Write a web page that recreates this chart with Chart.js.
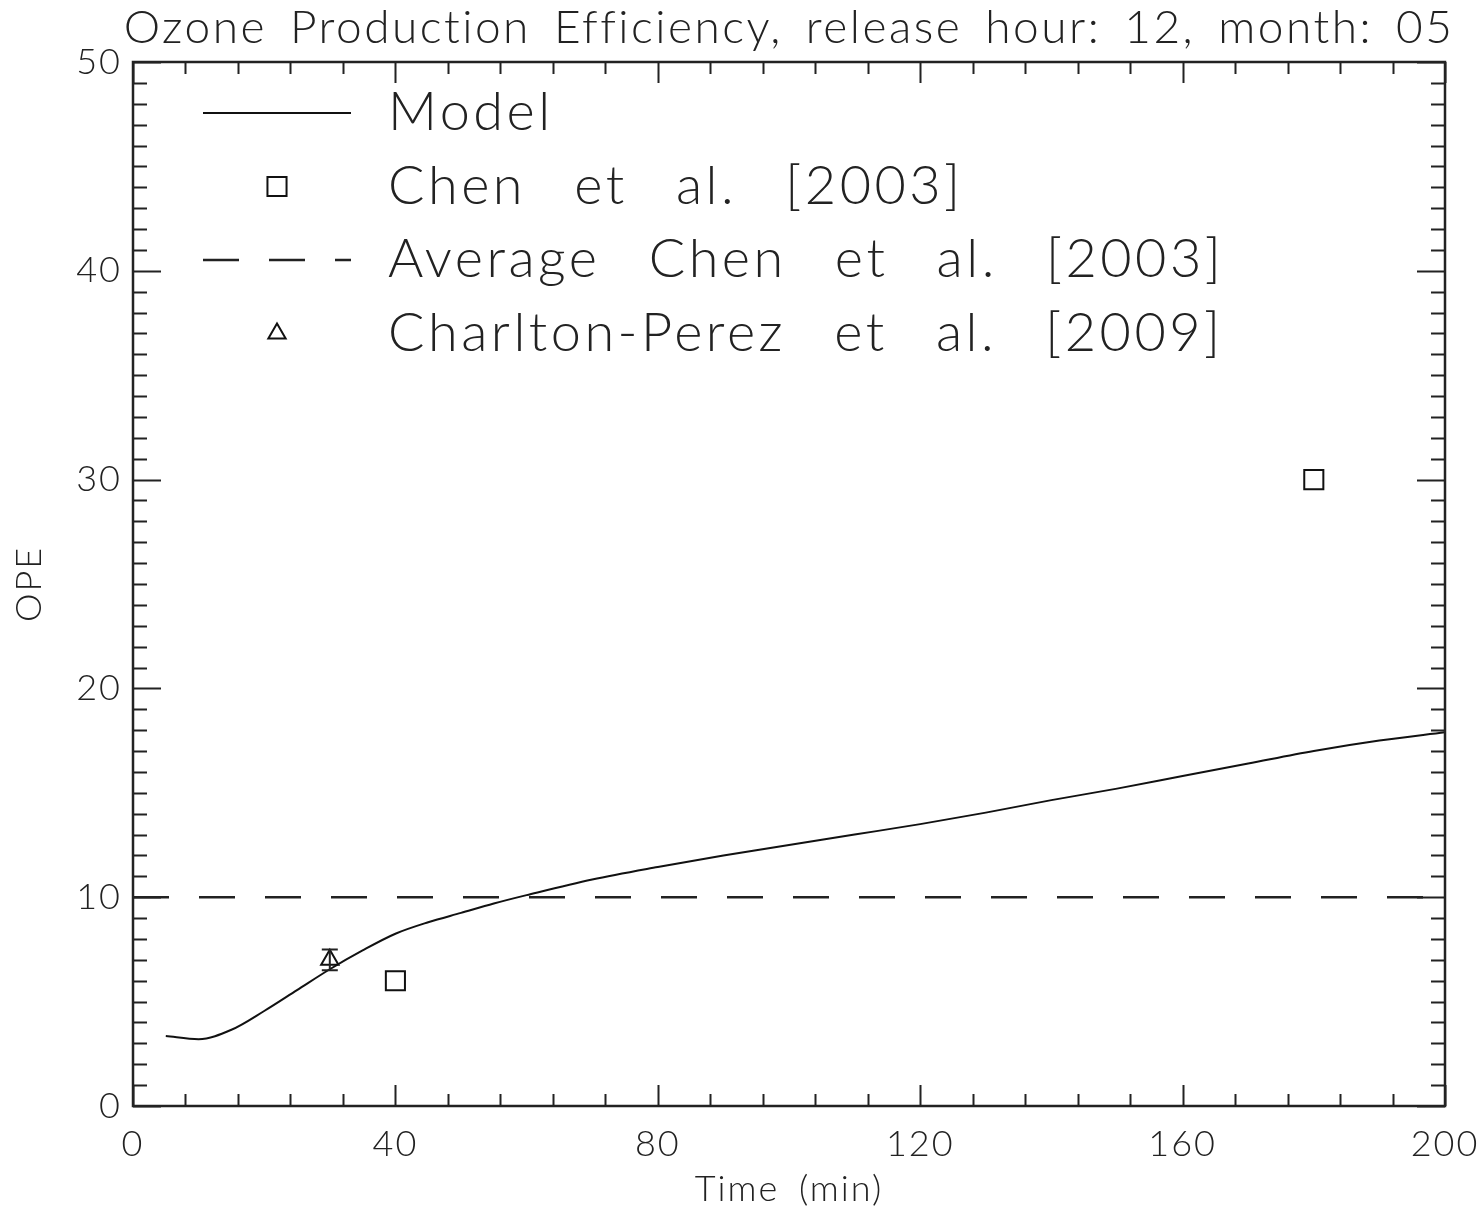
<!DOCTYPE html>
<html>
<head>
<meta charset="utf-8">
<script src="https://cdn.jsdelivr.net/npm/chart.js@4.4.0/dist/chart.umd.min.js"></script>
<style>
  html, body { margin: 0; padding: 0; background: #fff; }
</style>
</head>
<body>
<canvas id="opeChart" width="1484" height="1213"></canvas>
<script>
// values
var chartTitle = 'Ozone Production Efficiency, release hour: 12, month: 05';
var modelTime = [5, 10, 15, 20, 25, 30, 35, 40, 45, 50, 55, 60, 70, 80, 90, 100, 110, 120, 130, 140, 150, 160, 170, 180, 190, 200];
var modelOpe = [3.35, 3.2, 3.65, 4.55, 5.55, 6.55, 7.45, 8.25, 8.8, 9.25, 9.7, 10.1, 10.85, 11.45, 12.0, 12.5, 13.0, 13.5, 14.05, 14.65, 15.2, 15.8, 16.4, 17.0, 17.5, 17.9];
var chenTime = [40, 180];
var chenOpe = [6, 30];
var avgChenTime = [0, 200];
var avgChenOpe = [10, 10];
var charltonTime = [30];
var charltonOpe = [7];
var charltonErr = [0.5];
var xTickLabels = [0, 40, 80, 120, 160, 200];
var yTickLabels = [0, 10, 20, 30, 40, 50];

var ink = '#222';
var fontFamily = "Lato, 'Liberation Sans', sans-serif";

function points(xs, ys) {
  return xs.map(function(x, i) { return { x: x, y: ys[i] }; });
}

// the old plot font is spaced out, so widen the axis text a bit
var spacing = {
  id: 'spacing',
  beforeDraw: function(chart) {
    chart.ctx.letterSpacing = '2px';
    chart.ctx.wordSpacing = '8px';
  },
  afterDraw: function(chart) {
    chart.ctx.letterSpacing = '0px';
    chart.ctx.wordSpacing = '0px';
  }
};

// IDL style: closed box, ticks pointing inwards on all four sides
var idlFrame = {
  id: 'idlFrame',
  afterDraw: function(chart) {
    var c = chart.ctx, a = chart.chartArea;
    var xs = chart.scales.x, ys = chart.scales.y;
    c.save();
    c.strokeStyle = ink;
    c.lineWidth = 2;
    c.beginPath();
    for (var v = 0; v <= 200; v += 8) {
      var px = Math.round(xs.getPixelForValue(v)) + 0.5;
      var len = (v % 40 === 0) ? 21 : 12;
      c.moveTo(px, a.bottom); c.lineTo(px, a.bottom - len);
      c.moveTo(px, a.top); c.lineTo(px, a.top + len);
    }
    for (var w = 0; w <= 50; w += 1) {
      var py = Math.round(ys.getPixelForValue(w)) + 0.5;
      var ln = (w % 10 === 0) ? 28 : 14;
      c.moveTo(a.left, py); c.lineTo(a.left + ln, py);
      c.moveTo(a.right, py); c.lineTo(a.right - ln, py);
    }
    c.stroke();
    c.lineWidth = 2.5;
    c.strokeRect(a.left, a.top, a.right - a.left, a.bottom - a.top);

    // title over the plot box
    c.fillStyle = ink;
    c.font = '300 46px ' + fontFamily;
    c.letterSpacing = '2.5px';
    c.wordSpacing = '8px';
    c.textAlign = 'center';
    c.textBaseline = 'middle';
    c.fillText(chartTitle, (a.left + a.right) / 2, 28);
    c.restore();
  }
};

// error bars for the Charlton-Perez point
var errorBars = {
  id: 'errorBars',
  afterDatasetsDraw: function(chart) {
    var c = chart.ctx, xs = chart.scales.x, ys = chart.scales.y;
    c.save();
    c.strokeStyle = ink;
    c.lineWidth = 2;
    charltonTime.forEach(function(t, i) {
      var px = xs.getPixelForValue(t);
      var top = ys.getPixelForValue(charltonOpe[i] + charltonErr[i]);
      var bot = ys.getPixelForValue(charltonOpe[i] - charltonErr[i]);
      c.beginPath();
      c.moveTo(px, top); c.lineTo(px, bot);
      c.moveTo(px - 8, top); c.lineTo(px + 8, top);
      c.moveTo(px - 8, bot); c.lineTo(px + 8, bot);
      c.stroke();
    });
    c.restore();
  }
};

function markSymbol(c, style, r, x, y) {
  c.beginPath();
  if (style === 'rect') {
    var h = r * Math.SQRT1_2;
    c.rect(x - h, y - h, 2 * h, 2 * h);
  } else if (style === 'triangle') {
    c.moveTo(x, y - r);
    c.lineTo(x + r * Math.sin(Math.PI * 2 / 3), y + r / 2);
    c.lineTo(x - r * Math.sin(Math.PI * 2 / 3), y + r / 2);
    c.closePath();
  }
  c.stroke();
}

// legend drawn inside the plot box, top left
var insideLegend = {
  id: 'insideLegend',
  afterDatasetsDraw: function(chart) {
    var c = chart.ctx, a = chart.chartArea;
    c.save();
    chart.data.datasets.forEach(function(ds, i) {
      var y = a.top + 51 + i * 73.5;
      var x0 = a.left + 70, x1 = a.left + 218;
      c.strokeStyle = ds.borderColor;
      c.lineWidth = ds.borderWidth;
      if (ds.pointRadius > 0) {
        markSymbol(c, ds.pointStyle, ds.pointRadius, (x0 + x1) / 2, y);
      } else {
        c.setLineDash(ds.borderDash || []);
        c.beginPath();
        c.moveTo(x0, y); c.lineTo(x1, y);
        c.stroke();
        c.setLineDash([]);
      }
      c.fillStyle = ink;
      c.font = '300 54px ' + fontFamily;
      c.letterSpacing = '3.5px';
      c.wordSpacing = '30px';
      c.textAlign = 'left';
      c.textBaseline = 'middle';
      c.fillText(ds.label, a.left + 255, y);
    });
    c.restore();
  }
};

var tickFont = { family: fontFamily, size: 36, weight: 300 };

new Chart(document.getElementById('opeChart').getContext('2d'), {
  type: 'scatter',
  data: {
    datasets: [{
      label: 'Model',
      type: 'line',
      data: points(modelTime, modelOpe),
      borderColor: '#111',
      borderWidth: 2,
      pointRadius: 0,
      cubicInterpolationMode: 'monotone',
      fill: false
    }, {
      label: 'Chen et al. [2003]',
      data: points(chenTime, chenOpe),
      pointStyle: 'rect',
      pointRadius: 13.5,
      borderColor: '#111',
      borderWidth: 2,
      backgroundColor: 'rgba(0,0,0,0)',
      showLine: false
    }, {
      label: 'Average Chen et al. [2003]',
      type: 'line',
      data: points(avgChenTime, avgChenOpe),
      borderColor: '#222',
      borderWidth: 2.5,
      borderDash: [36, 30],
      pointRadius: 0,
      fill: false
    }, {
      label: 'Charlton-Perez et al. [2009]',
      data: points(charltonTime, charltonOpe),
      pointStyle: 'triangle',
      pointRadius: 10,
      borderColor: '#111',
      borderWidth: 2,
      backgroundColor: 'rgba(0,0,0,0)',
      showLine: false
    }]
  },
  options: {
    responsive: false,
    animation: false,
    layout: { padding: { top: 62, right: 39, left: 0, bottom: 0 } },
    plugins: {
      legend: { display: false },
      tooltip: { enabled: false },
      title: { display: false }
    },
    scales: {
      x: {
        type: 'linear',
        min: 0,
        max: 200,
        afterBuildTicks: function(s) { s.ticks = xTickLabels.map(function(v) { return { value: v }; }); },
        afterFit: function(s) { s.height = 107; s.paddingLeft = 0; s.paddingRight = 0; },
        grid: { display: false, drawTicks: false },
        border: { display: false },
        ticks: { padding: 17, font: tickFont, color: ink, maxRotation: 0 },
        title: { display: true, text: 'Time (min)', font: tickFont, color: ink, padding: { top: 0, bottom: 2 } }
      },
      y: {
        type: 'linear',
        min: 0,
        max: 50,
        afterBuildTicks: function(s) { s.ticks = yTickLabels.map(function(v) { return { value: v }; }); },
        afterFit: function(s) { s.width = 133; s.paddingTop = 0; s.paddingBottom = 0; },
        grid: { display: false, drawTicks: false },
        border: { display: false },
        ticks: { padding: 11, font: tickFont, color: ink },
        title: { display: true, text: 'OPE', font: tickFont, color: ink, padding: { top: 8, bottom: 0 } }
      }
    }
  },
  plugins: [spacing, idlFrame, errorBars, insideLegend]
});
</script>
</body>
</html>
